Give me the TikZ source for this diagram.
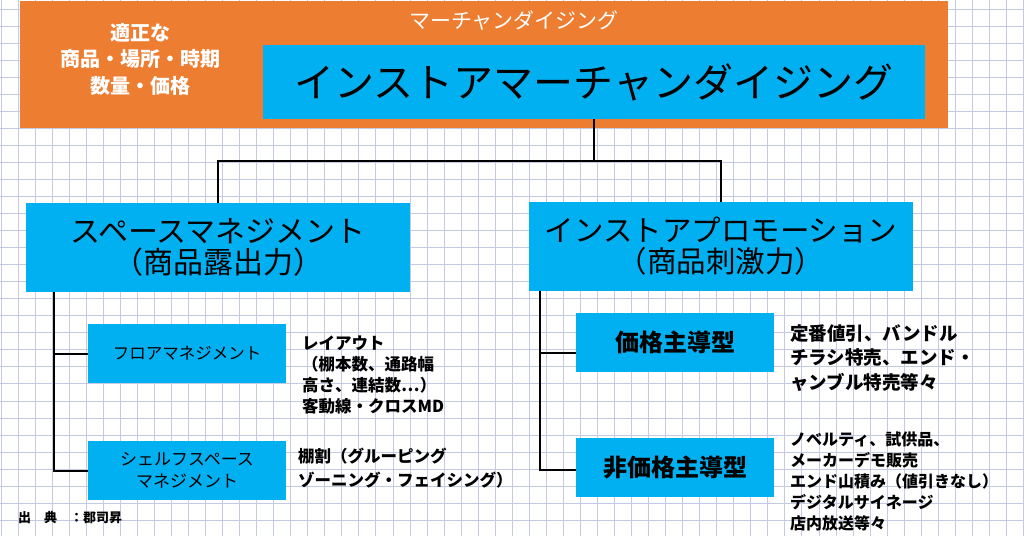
\documentclass[tikz,border=0pt]{standalone}
\usepackage{fontspec}
\newfontfamily\jp{Noto Sans CJK JP}
\definecolor{mdorange}{RGB}{237,125,49}
\definecolor{boxblue}{RGB}{0,176,240}
\definecolor{gridc}{RGB}{196,202,228}
\tikzset{
  orangebox/.style={fill=mdorange, draw=none, inner sep=0pt, outer sep=0pt, anchor=north west},
  bluebox/.style={fill=boxblue, draw=none, inner sep=0pt, outer sep=0pt, anchor=north west, align=center, text=black},
  conn/.style={draw=black, line width=2pt},
  desc/.style={inner sep=0pt, anchor=west, align=left, text=black},
}
\begin{document}
\begin{tikzpicture}[x=1pt,y=-1pt]
\useasboundingbox (0,0) rectangle (1024,536);
\fill[white] (0,0) rectangle (1024,536);
\foreach \i in {0,...,60} \draw[gridc, line width=0.8pt] (1+17.04*\i,0) -- (1+17.04*\i,536);
\foreach \j in {0,...,31} \draw[gridc, line width=0.8pt] (0,9+17.04*\j) -- (1024,9+17.04*\j);

% top block
\node[orangebox, minimum width=928pt, minimum height=127pt] (mdbox) at (20,1) {};
\node[text=white, font=\jp\fontsize{21}{24}\selectfont, inner sep=0pt] (mdtitle) at (514,21) {マーチャンダイジング};
\node[text=white, font=\jp\bfseries\fontsize{20}{26.5}\selectfont, align=center, inner sep=0pt] (appr) at (140,59) {適正な\\商品・場所・時期\\数量・価格};
\node[bluebox, minimum width=662pt, minimum height=74pt, font=\jp\fontsize{40}{44}\selectfont] (isbox) at (263,45) {インストアマーチャンダイジング};

% second level
\node[bluebox, minimum width=384pt, minimum height=89pt, font=\jp\fontsize{30}{31}\selectfont] (spbox) at (26,203) {スペースマネジメント\\（商品露出力）};
\node[bluebox, minimum width=384pt, minimum height=89pt, font=\jp\fontsize{29.5}{31}\selectfont] (ipbox) at (529,202) {インストアプロモーション\\（商品刺激力）};

% third level left
\node[bluebox, minimum width=198pt, minimum height=59pt, font=\jp\fontsize{16.5}{20}\selectfont] (fmbox) at (88,324) {フロアマネジメント};
\node[bluebox, minimum width=198pt, minimum height=59pt, font=\jp\fontsize{17}{22}\selectfont] (ssbox) at (88,441) {シェルフスペース\\マネジメント};

% third level right
\node[bluebox, minimum width=198pt, minimum height=59pt, font=\jp\bfseries\fontsize{24}{28}\selectfont] (kbox) at (576,313) {価格主導型};
\node[bluebox, minimum width=198pt, minimum height=59pt, font=\jp\bfseries\fontsize{24}{28}\selectfont] (nkbox) at (576,438) {非価格主導型};

% descriptions
\node[desc, font=\jp\bfseries\fontsize{16.5}{21}\selectfont] (fmdesc) at (302,375) {レイアウト\\（棚本数、通路幅\\高さ、連結数⋯）\\客動線・クロスMD};
\node[desc, font=\jp\bfseries\fontsize{16.5}{24}\selectfont] (ssdesc) at (298,468) {棚割（グルーピング\\ゾーニング・フェイシング）};
\node[desc, font=\jp\bfseries\fontsize{18.5}{24.5}\selectfont] (kdesc) at (790,358) {定番値引、バンドル\\チラシ特売、エンド・\\ャンブル特売等々};
\node[desc, font=\jp\bfseries\fontsize{16}{21}\selectfont] (nkdesc) at (790,481) {ノベルティ、試供品、\\メーカーデモ販売\\エンド山積み（値引きなし）\\デジタルサイネージ\\店内放送等々};

\node[desc, font=\jp\bfseries\fontsize{13}{15}\selectfont] (src) at (18,518) {出　典　：郡司昇};

% connectors
\coordinate (j) at (594,161);
\draw[conn] (isbox.south) -- (j);
\draw[conn] (spbox.north) -- (spbox.north |- j) -- (ipbox.north |- j) -- (ipbox.north);

\coordinate (lt) at ([xshift=28pt]spbox.south west);
\draw[conn] (lt) |- (ssbox.west);
\draw[conn] (lt |- fmbox.west) -- (fmbox.west);

\coordinate (rt) at ([xshift=11pt]ipbox.south west);
\coordinate (kb) at ([yshift=-10pt]kbox.west);
\coordinate (nkb) at ([yshift=-2pt]nkbox.west);
\draw[conn] (rt) |- (nkb);
\draw[conn] (rt |- kb) -- (kb);
\end{tikzpicture}
\end{document}
